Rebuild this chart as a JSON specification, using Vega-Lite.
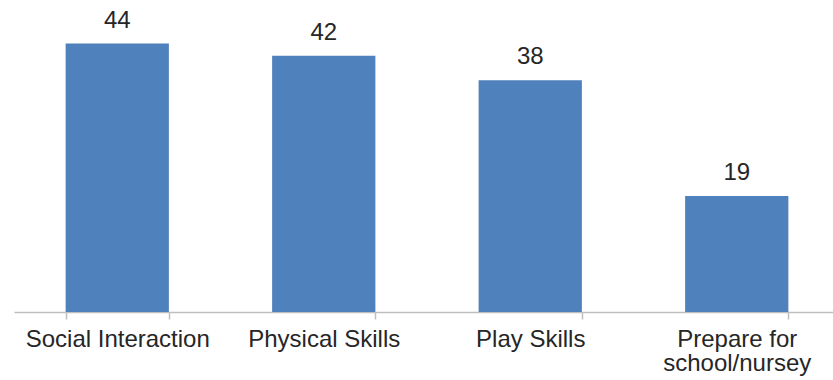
{
  "$schema": "https://vega.github.io/schema/vega-lite/v6.json",
  "width": 826,
  "height": 305,
  "autosize": "none",
  "padding": {"left": 14, "top": 7, "right": 0, "bottom": 68},
  "background": "white",
  "config": {"view": {"stroke": null}, "font": "Liberation Sans"},
  "data": {"values": [
    {"category": "Social Interaction", "value": 44},
    {"category": "Physical Skills", "value": 42},
    {"category": "Play Skills", "value": 38},
    {"category": "Prepare for school/nursey", "value": 19}
  ]},
  "encoding": {
    "x": {
      "field": "category", "type": "nominal", "sort": null,
      "scale": {"paddingInner": 0.5, "paddingOuter": 0.25},
      "axis": {
        "title": null, "labelAngle": 0, "tickBand": "extent",
        "domainColor": "#BFBFBF", "domainWidth": 1.5,
        "tickColor": "#BFBFBF", "tickWidth": 1.5, "tickSize": 7,
        "labelFontSize": 24, "labelColor": "#262626", "labelFont": "Liberation Sans",
        "labelPadding": 8, "labelLineHeight": 24, "labelBaseline": "top", "labelLimit": 300,
        "labelExpr": "datum.value == 'Prepare for school/nursey' ? ['Prepare for', 'school/nursey'] : datum.value",
        "encode": {"labels": {"update": {"dy": {"signal": "datum.value == 'Prepare for school/nursey' ? 4 : 0"}}}}
      }
    },
    "y": {
      "field": "value", "type": "quantitative",
      "scale": {"domain": [0, 50]},
      "axis": null
    }
  },
  "layer": [
    {"mark": {"type": "bar", "color": "#4F81BD"}},
    {"mark": {"type": "text", "fontSize": 24, "color": "#262626", "baseline": "alphabetic", "dy": -16, "font": "Liberation Sans"},
     "encoding": {"text": {"field": "value", "type": "quantitative"}}}
  ]
}
